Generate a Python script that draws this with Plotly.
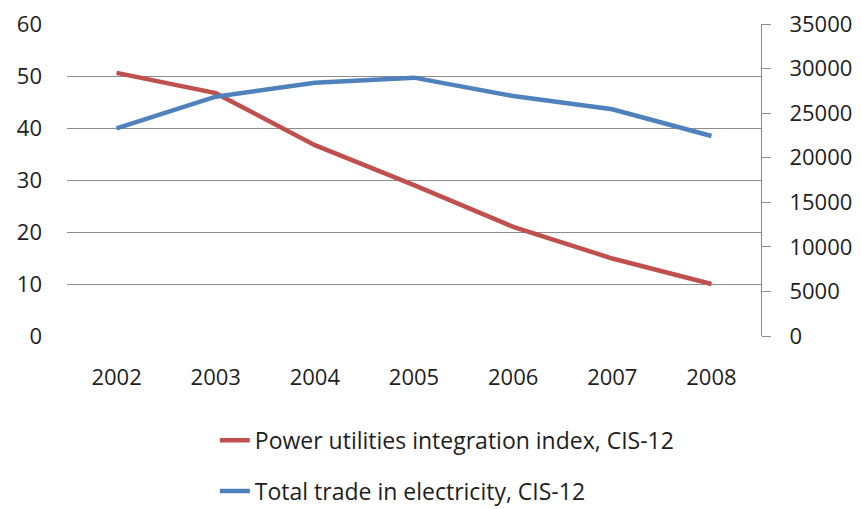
import plotly.graph_objects as go

years = ["2002", "2003", "2004", "2005", "2006", "2007", "2008"]
integration_index = [50.6, 46.7, 36.7, 29.0, 21.0, 14.9, 10.0]
electricity_trade = [23300, 26850, 28400, 28980, 26920, 25430, 22440]

left_ticks = [0, 10, 20, 30, 40, 50, 60]
right_ticks = [0, 5000, 10000, 15000, 20000, 25000, 30000, 35000]

RED = "#C0504D"
BLUE = "#4F81BD"
GRID = "#8C8C8C"
FONT = "Open Sans"
TEXT = "#1E1E1E"

fig = go.Figure()
fig.add_trace(go.Scatter(
    x=years, y=integration_index, mode="lines",
    name="Power utilities integration index, CIS-12",
    line=dict(color=RED, width=4.5), legendgroup="a", yaxis="y",
))
fig.add_trace(go.Scatter(
    x=years, y=electricity_trade, mode="lines",
    name="Total trade in electricity, CIS-12",
    line=dict(color=BLUE, width=4.5), legendgroup="b", yaxis="y2",
))

fig.update_layout(
    width=861, height=509,
    margin=dict(l=67, r=100, t=24, b=173, autoexpand=False),
    paper_bgcolor="white", plot_bgcolor="white",
    font=dict(family=FONT, size=22, color=TEXT),
    xaxis=dict(
        type="category", range=[-0.5, 6.5], showgrid=False, zeroline=False,
        showline=False, ticks="", ticklabelstandoff=26,
    ),
    yaxis=dict(
        range=[0, 60], tickvals=left_ticks, showgrid=True, gridcolor=GRID,
        gridwidth=1, zeroline=False, showline=False, ticks="",
        ticklabelstandoff=24,
    ),
    yaxis2=dict(
        range=[0, 35000], tickvals=right_ticks, tickformat="d",
        overlaying="y", side="right",
        showgrid=False, zeroline=False, showline=True, linecolor=GRID,
        linewidth=1, ticks="outside", ticklen=9, tickcolor=GRID,
        ticklabelstandoff=14,
    ),
    showlegend=True,
    legend=dict(
        x=0.213, xanchor="left", y=-0.265, yanchor="top",
        font=dict(family=FONT, size=23, color=TEXT),
        tracegroupgap=18, bgcolor="rgba(0,0,0,0)",
    ),
)

fig.write_html("out.html")
